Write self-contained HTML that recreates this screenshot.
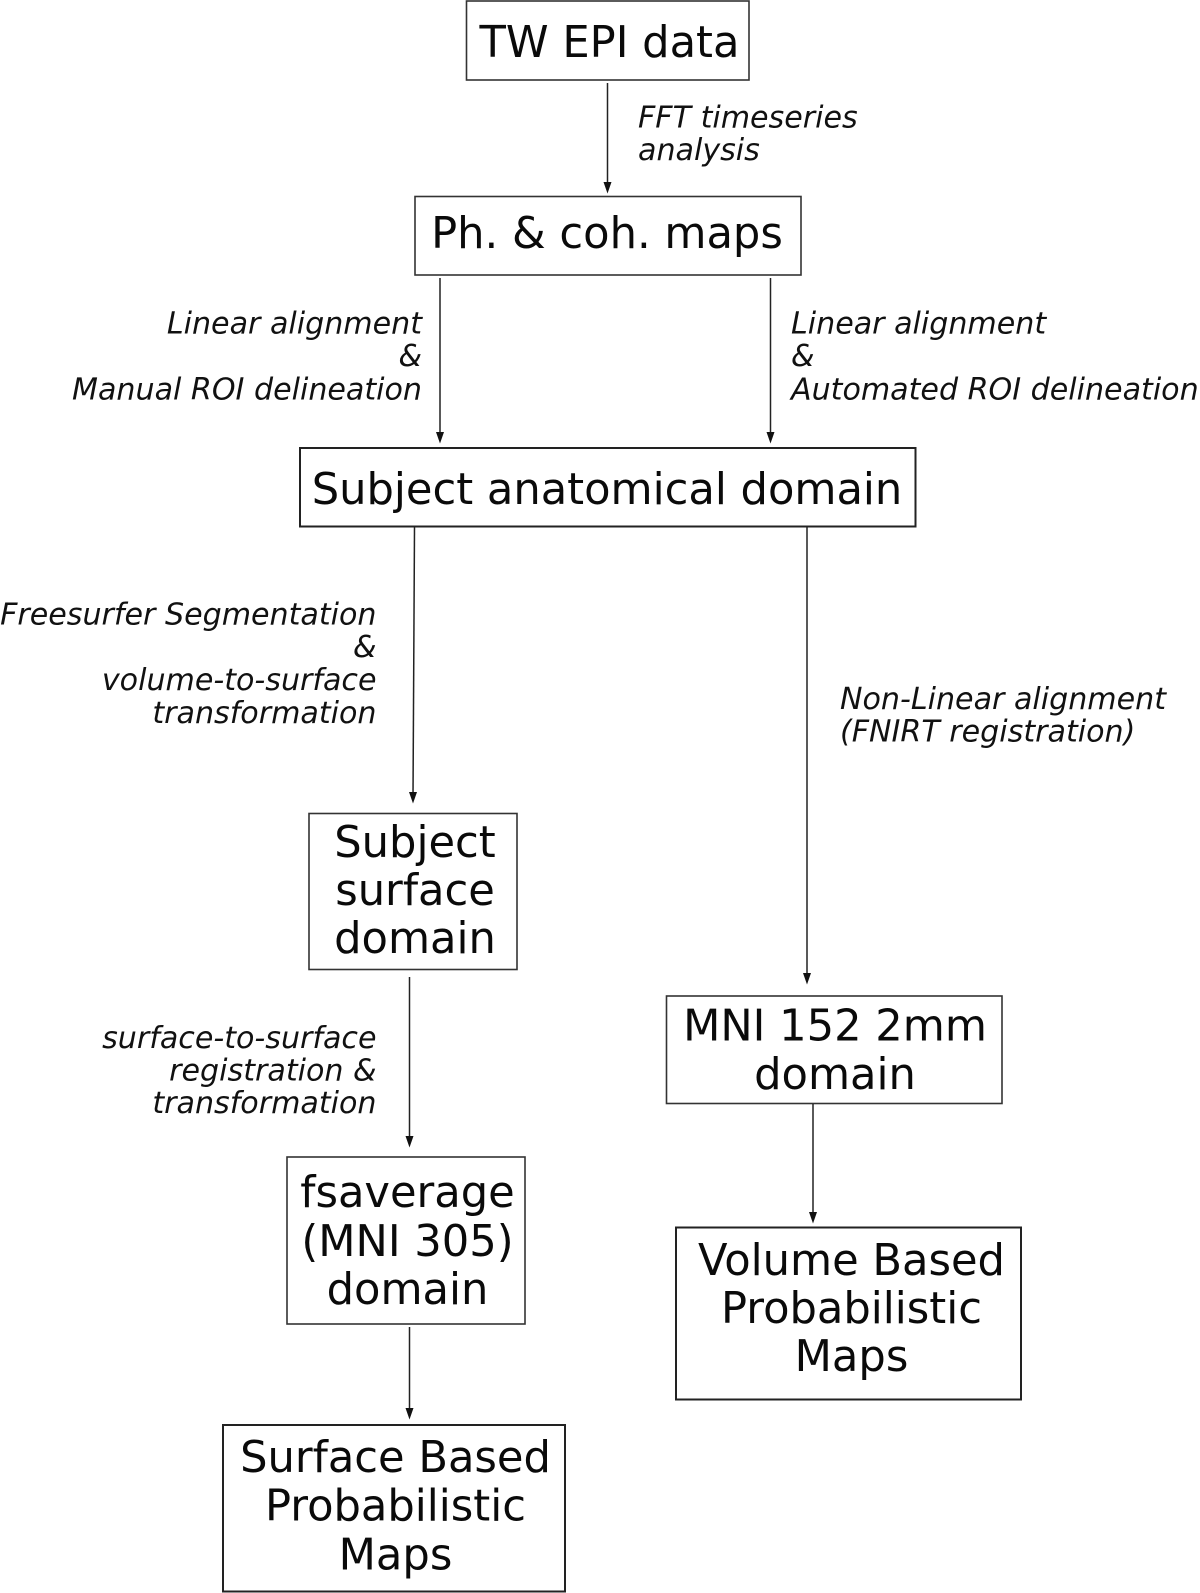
<!DOCTYPE html>
<html>
<head>
<meta charset="utf-8">
<style>
html,body{margin:0;padding:0;background:#fff;width:1200px;height:1593px;overflow:hidden}
svg{display:block}
.b{font:43.2px "DejaVu Sans",sans-serif;fill:#0a0a0a;text-anchor:middle}
.s{font:italic 30.1px "DejaVu Sans",sans-serif;fill:#111}
.e{text-anchor:end}
rect{fill:#fff;stroke:#333;stroke-width:1.6}
rect.t{stroke:#222;stroke-width:2}
line{stroke:#222;stroke-width:1.5}
polygon{fill:#111}
</style>
</head>
<body>
<svg width="1200" height="1593" viewBox="0 0 1200 1593" xmlns="http://www.w3.org/2000/svg">
<rect x="466.5" y="1" width="282.5" height="79"/>
<rect x="415" y="196.500" width="386" height="78.500"/>
<rect class="t" x="300" y="448" width="615.500" height="78.500"/>
<rect x="309" y="813.500" width="208" height="156"/>
<rect x="287" y="1157" width="238" height="167"/>
<rect class="t" x="223" y="1425" width="342" height="166.500"/>
<rect x="666.500" y="996" width="335.500" height="107.500"/>
<rect class="t" x="676" y="1227.500" width="345" height="172"/>

<line x1="607.500" y1="83" x2="607.500" y2="187"/><polygon points="603.500,182 611.500,182 607.500,193.500"/>
<line x1="440" y1="278" x2="440" y2="437"/><polygon points="436,432 444,432 440,443.500"/>
<line x1="770.500" y1="278" x2="770.500" y2="437"/><polygon points="766.500,432 774.500,432 770.500,443.500"/>
<line x1="414.500" y1="527" x2="413" y2="797"/><polygon points="409,792 417,792 413,803.500"/>
<line x1="807" y1="527" x2="807" y2="978"/><polygon points="803,973 811,973 807,984.500"/>
<line x1="409.500" y1="977" x2="409.500" y2="1141"/><polygon points="405.500,1136 413.500,1136 409.500,1147.500"/>
<line x1="813" y1="1104" x2="813" y2="1217"/><polygon points="809,1212 817,1212 813,1223.500"/>
<line x1="409.500" y1="1327" x2="409.500" y2="1413"/><polygon points="405.500,1408 413.500,1408 409.500,1419.500"/>

<text class="b" x="609.500" y="57">TW EPI data</text>
<text class="b" x="607" y="248">Ph. &amp; coh. maps</text>
<text class="b" x="607" y="504">Subject anatomical domain</text>
<text class="b" x="415" y="857">Subject</text>
<text class="b" x="415" y="905">surface</text>
<text class="b" x="415" y="953">domain</text>
<text class="b" x="407.500" y="1207">fsaverage</text>
<text class="b" x="407.500" y="1256">(MNI 305)</text>
<text class="b" x="407.500" y="1304">domain</text>
<text class="b" x="395.500" y="1472">Surface Based</text>
<text class="b" x="395.500" y="1520.500">Probabilistic</text>
<text class="b" x="395.500" y="1569.500">Maps</text>
<text class="b" x="835" y="1040.500">MNI 152 2mm</text>
<text class="b" x="835" y="1089">domain</text>
<text class="b" x="851.500" y="1275">Volume Based</text>
<text class="b" x="851.500" y="1323">Probabilistic</text>
<text class="b" x="851.500" y="1371">Maps</text>

<text class="s" x="638" y="127.500">FFT timeseries</text>
<text class="s" x="638" y="160">analysis</text>
<text class="s e" x="422" y="333.500">Linear alignment</text>
<text class="s e" x="422" y="366">&amp;</text>
<text class="s e" x="422" y="399.500">Manual ROI delineation</text>
<text class="s" x="791" y="333.500">Linear alignment</text>
<text class="s" x="791" y="366">&amp;</text>
<text class="s" x="791" y="399.500">Automated ROI delineation</text>
<text class="s e" x="376.500" y="624.500">Freesurfer Segmentation</text>
<text class="s e" x="376.500" y="657">&amp;</text>
<text class="s e" x="376.500" y="690">volume-to-surface</text>
<text class="s e" x="376.500" y="723">transformation</text>
<text class="s" x="840" y="709">Non-Linear alignment</text>
<text class="s" x="840" y="741.500">(FNIRT registration)</text>
<text class="s e" x="376.500" y="1048">surface-to-surface</text>
<text class="s e" x="376.500" y="1080.500">registration &amp;</text>
<text class="s e" x="376.500" y="1113">transformation</text>
</svg>
</body>
</html>
